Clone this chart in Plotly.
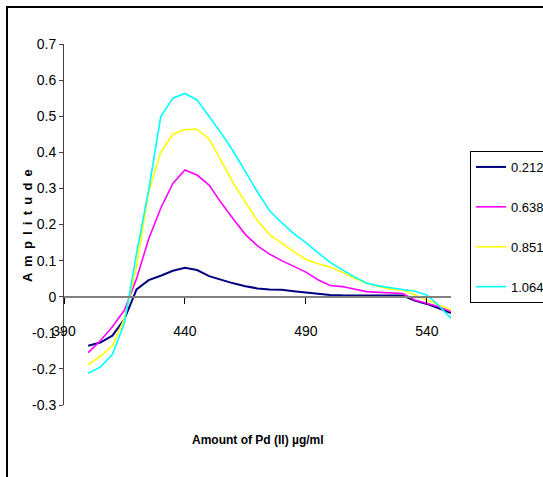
import plotly.graph_objects as go

# Wavelength grid (nm) shared by all scans
wavelengths = [400, 405, 410, 415, 420, 425, 430, 435, 440, 445, 450, 455, 460, 465, 470,
               475, 480, 485, 490, 495, 500, 505, 510, 515, 520, 525, 530, 535, 540, 545, 550]

# Derivative amplitude for each Pd(II) concentration
amp_0212 = [-0.136, -0.127, -0.108, -0.062, 0.020, 0.046, 0.058, 0.072, 0.080, 0.074, 0.057,
            0.046, 0.037, 0.029, 0.023, 0.020, 0.019, 0.015, 0.011, 0.007, 0.005, 0.004,
            0.004, 0.004, 0.004, 0.004, 0.003, -0.011, -0.020, -0.032, -0.045]
amp_0638 = [-0.155, -0.122, -0.083, -0.037, 0.050, 0.160, 0.245, 0.314, 0.351, 0.337, 0.309,
            0.260, 0.215, 0.172, 0.141, 0.118, 0.100, 0.085, 0.068, 0.047, 0.031, 0.028,
            0.021, 0.014, 0.012, 0.011, 0.009, -0.009, -0.018, -0.028, -0.041]
amp_0851 = [-0.188, -0.165, -0.136, -0.060, 0.085, 0.290, 0.400, 0.450, 0.463, 0.464, 0.437,
            0.375, 0.315, 0.262, 0.210, 0.172, 0.148, 0.125, 0.103, 0.091, 0.082, 0.068,
            0.051, 0.037, 0.028, 0.021, 0.019, 0.005, -0.007, -0.023, -0.037]
amp_1064 = [-0.212, -0.195, -0.160, -0.072, 0.120, 0.295, 0.499, 0.550, 0.563, 0.545, 0.499,
            0.453, 0.403, 0.345, 0.290, 0.238, 0.205, 0.175, 0.150, 0.122, 0.095, 0.075,
            0.055, 0.038, 0.030, 0.025, 0.021, 0.015, 0.005, -0.025, -0.060]

series_names = ["0.212\u00b5g/ml", "0.638\u00b5g/ml", "0.851\u00b5g/ml", "1.064\u00b5g/ml"]
series_values = [amp_0212, amp_0638, amp_0851, amp_1064]
series_colors = ["#000080", "#FF00FF", "#FFFF00", "#00FFFF"]
series_widths = [2, 1.6, 1.6, 1.6]

x_tick_vals = [390, 440, 490, 540]
x_tick_text = ["390", "440", "490", "540"]
y_tick_vals = [0.7, 0.6, 0.5, 0.4, 0.3, 0.2, 0.1, 0, -0.1, -0.2, -0.3]
y_tick_text = ["0.7", "0.6", "0.5", "0.4", "0.3", "0.2", "0.1", "0", "-0.1", "-0.2", "-0.3"]

FONT = "Liberation Sans, Arial, sans-serif"

fig = go.Figure()
for name, vals, color, w in zip(series_names, series_values, series_colors, series_widths):
    fig.add_trace(go.Scatter(
        x=wavelengths, y=vals, mode="lines", name=name, legendgroup=name,
        line=dict(color=color, width=w),
    ))

W, H = 543, 477
L, R, T, B = 64, 92, 44, 72
pw, ph = W - L - R, H - T - B

def px_x(p):
    return (p - L) / pw

def px_y(p):
    return (H - B - p) / ph

y_title = " \u2009".join("Amplitude")

fig.update_layout(
    width=W, height=H,
    margin=dict(l=L, r=R, t=T, b=B, autoexpand=False),
    paper_bgcolor="white", plot_bgcolor="white",
    font=dict(family=FONT, size=14, color="#000000"),
    showlegend=True,
    legend=dict(
        x=px_x(470), y=px_y(151), xanchor="left", yanchor="top",
        bordercolor="#000000", borderwidth=1, bgcolor="white",
        font=dict(family=FONT, size=13, color="#000000"),
        tracegroupgap=20, itemwidth=30,
    ),
    xaxis=dict(
        range=[390, 550], anchor="free", position=0.3,
        tickmode="array", tickvals=x_tick_vals, ticktext=x_tick_text,
        showgrid=False, zeroline=False,
        showline=True, linecolor="#808080", linewidth=2,
        ticks="outside", ticklen=6, tickcolor="#000000", tickwidth=1,
        ticklabelstandoff=15,
        tickfont=dict(family=FONT, size=14, color="#000000"),
    ),
    yaxis=dict(
        range=[-0.3, 0.7],
        tickmode="array", tickvals=y_tick_vals, ticktext=y_tick_text,
        showgrid=False, zeroline=False,
        showline=True, linecolor="#404040", linewidth=1,
        ticks="outside", ticklen=4, tickcolor="#404040",
        tickfont=dict(family=FONT, size=14, color="#000000"),
    ),
    annotations=[
        dict(text="<b>Amount of Pd (II) \u00b5g/ml</b>", xref="paper", yref="paper",
             x=px_x(258), y=px_y(440), xanchor="center", yanchor="middle", showarrow=False,
             font=dict(family=FONT, size=12, color="#000000")),
        dict(text="<b>" + y_title + "</b>", xref="paper", yref="paper",
             x=px_x(27), y=px_y(226), xanchor="center", yanchor="middle",
             showarrow=False, textangle=-90,
             font=dict(family=FONT, size=13, color="#000000")),
    ],
    shapes=[
        dict(type="rect", xref="paper", yref="paper",
             x0=px_x(7), x1=px_x(560), y0=px_y(500), y1=px_y(7),
             line=dict(color="#000000", width=2), fillcolor="rgba(0,0,0,0)", layer="below"),
    ],
)

fig.write_html("out.html")
